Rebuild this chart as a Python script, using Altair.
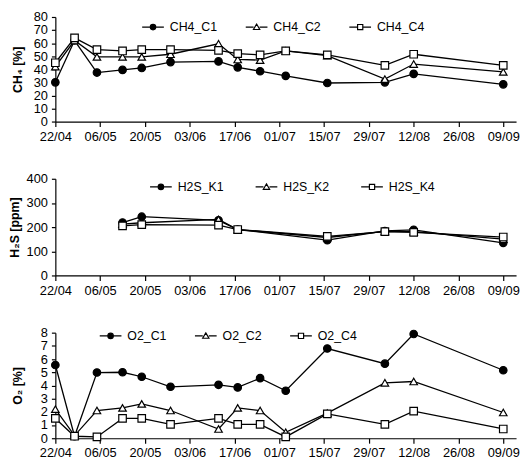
import altair as alt
import pandas as pd

# ---- data ----
dates = ["2008-04-22", "2008-04-28", "2008-05-05", "2008-05-13", "2008-05-19",
         "2008-05-28", "2008-06-12", "2008-06-18", "2008-06-25", "2008-07-03",
         "2008-07-16", "2008-08-03", "2008-08-12", "2008-09-09"]

ch4_c1 = [30, 62, 37.5, 39.5, 41, 45.5, 46, 41.5, 38.5, 35, 29.5, 30, 36.5, 28.5]
ch4_c2 = [42, 62, 49.5, 49.5, 49.5, 51.5, 59.5, 47.5, 47, 54, 50.5, 32.5, 44, 38]
ch4_c4 = [45, 64, 55, 54, 55, 55, 54.5, 52, 51, 54, 51, 43, 51.5, 43]

h2s_dates = ["2008-05-13", "2008-05-19", "2008-06-12", "2008-06-18",
             "2008-07-16", "2008-08-03", "2008-08-12", "2008-09-09"]
h2s_k1 = [219, 243, 228, 190, 146, 184, 189, 135]
h2s_k2 = [212, 218, 232, 190, 157, 182, 181, 150]
h2s_k4 = [205, 210, 208, 190, 162, 181, 178, 159]

o2_c1 = [5.55, 0.15, 4.98, 5.0, 4.66, 3.9, 4.05, 3.85, 4.55, 3.6, 6.8, 5.65, 7.9, 5.15]
o2_c2 = [2.2, 0.2, 2.1, 2.3, 2.6, 2.1, 0.7, 2.3, 2.1, 0.45, 1.9, 4.2, 4.3, 1.95]
o2_c4 = [1.5, 0.15, 0.1, 1.5, 1.5, 1.05, 1.5, 1.05, 1.05, 0.1, 1.85, 1.05, 2.05, 0.7]

ch4_names = ["CH4_C1", "CH4_C2", "CH4_C4"]
h2s_names = ["H2S_K1", "H2S_K2", "H2S_K4"]
o2_names = ["O2_C1", "O2_C2", "O2_C4"]

tick_dates = [(2008, 4, 22), (2008, 5, 6), (2008, 5, 20), (2008, 6, 3), (2008, 6, 17),
              (2008, 7, 1), (2008, 7, 15), (2008, 7, 29), (2008, 8, 12), (2008, 8, 26),
              (2008, 9, 9)]
x_start = (2008, 4, 22)
x_end = (2008, 9, 13)


def dt(t):
    return alt.DateTime(year=t[0], month=t[1], date=t[2], utc=True)


def long_df(dlist, names, series):
    rows = []
    for name, vals in zip(names, series):
        for d, v in zip(dlist, vals):
            rows.append({"date": d, "value": v, "series": name})
    return pd.DataFrame(rows)


FONT = "Liberation Sans"
MARK_SHAPES = ["circle", "triangle-up", "square"]
MARK_FILLS = ["black", "white", "white"]
LEG_STROKES = ["black", "black", "black"]
LEG_SHAPES = [
    "M-1,0L-0.25,0M0.25,0L1,0M0.25,0A0.25,0.25,0,1,1,-0.25,0A0.25,0.25,0,1,1,0.25,0Z",
    "M-1,0L-0.28,0M0.28,0L1,0M0,-0.28L0.29,0.22L-0.29,0.22Z",
    "M-1,0L-0.24,0M0.24,0L1,0M-0.24,-0.24L0.24,-0.24L0.24,0.24L-0.24,0.24Z",
]


def legend(lx, ly, colpad):
    return alt.Legend(title=None, orient="none", legendX=lx, legendY=ly,
                      direction="horizontal", padding=0,
                      columnPadding=colpad, labelOffset=5,
                      symbolSize=484, symbolStrokeWidth=1.2,
                      labelFont=FONT, labelFontSize=12.5, labelColor="black")


def panel(df, names, ytitle, ymax, ystep, height, lx, ly, colpad, tpad, yfont):
    x = alt.X(
        "date:T",
        scale=alt.Scale(type="utc", domain=[dt(x_start), dt(x_end)]),
        axis=alt.Axis(values=[dt(t) for t in tick_dates],
                      labelExpr="utcFormat(datum.value, '%d/%m')",
                      title=None, labelOverlap=False, labelFlush=False,
                      tickSize=5, labelPadding=4),
    )
    y = alt.Y(
        "value:Q",
        scale=alt.Scale(domain=[0, ymax], nice=False),
        axis=alt.Axis(values=list(range(0, ymax + 1, ystep)), title=ytitle,
                      labelFlush=False, titlePadding=tpad, labelFont=yfont,
                      tickSize=4, labelPadding=4),
    )
    base = alt.Chart(df)
    lines = base.mark_line(color="black", strokeWidth=1.3).encode(
        x=x, y=y, detail="series:N", order="date:T"
    )
    pts = base.mark_point(filled=True, stroke="black", strokeWidth=1.2, size=58, opacity=1).encode(
        x=x, y=y,
        shape=alt.Shape("series:N", scale=alt.Scale(domain=names, range=MARK_SHAPES), legend=None),
        fill=alt.Fill("series:N", scale=alt.Scale(domain=names, range=MARK_FILLS), legend=None),
    )
    lg = legend(lx, ly, colpad)
    leg = base.transform_filter("false").mark_point(
        filled=True, strokeWidth=1.2, size=484, opacity=1
    ).encode(
        x=x, y=y,
        shape=alt.Shape("series:N", scale=alt.Scale(domain=names, range=LEG_SHAPES), legend=lg),
        fill=alt.Fill("series:N", scale=alt.Scale(domain=names, range=MARK_FILLS), legend=lg),
        stroke=alt.Stroke("series:N", scale=alt.Scale(domain=names, range=LEG_STROKES), legend=lg),
    )
    return alt.layer(lines, pts, leg).resolve_scale(
        shape="independent", fill="independent", stroke="independent"
    ).properties(width=467, height=height)


ch4_df = long_df(dates, ch4_names, [ch4_c1, ch4_c2, ch4_c4])
h2s_df = long_df(h2s_dates, h2s_names, [h2s_k1, h2s_k2, h2s_k4])
o2_df = long_df(dates, o2_names, [o2_c1, o2_c2, o2_c4])

top = panel(ch4_df, ch4_names, "CH₄ [%]", 80, 10, 106, 87, -2, 26, 9, FONT)
mid = panel(h2s_df, h2s_names, "H₂S [ppm]", 400, 100, 98, 95, -4, 29, 5,
            "Liberation Sans Narrow, Liberation Sans")
bot = panel(o2_df, o2_names, "O₂ [%]", 8, 1, 107, 44, -9, 25.5, 16, FONT)

chart = alt.vconcat(top, mid, bot, spacing=58, bounds="flush").resolve_scale(
    x="independent", y="independent", shape="independent", fill="independent",
    stroke="independent"
).properties(
    padding={"left": 0, "top": 0, "right": 0, "bottom": 0}
).configure_view(stroke=None).configure_axis(
    labelFont=FONT, labelFontSize=13, labelColor="black",
    domainColor="black", tickColor="black", domainWidth=1.2, tickWidth=1.2,
    grid=False,
    titleFont=FONT, titleFontSize=12.5, titleFontWeight="bold", titleColor="black",
)

chart.save("out.html", embed_options={"renderer": "svg", "actions": False})
